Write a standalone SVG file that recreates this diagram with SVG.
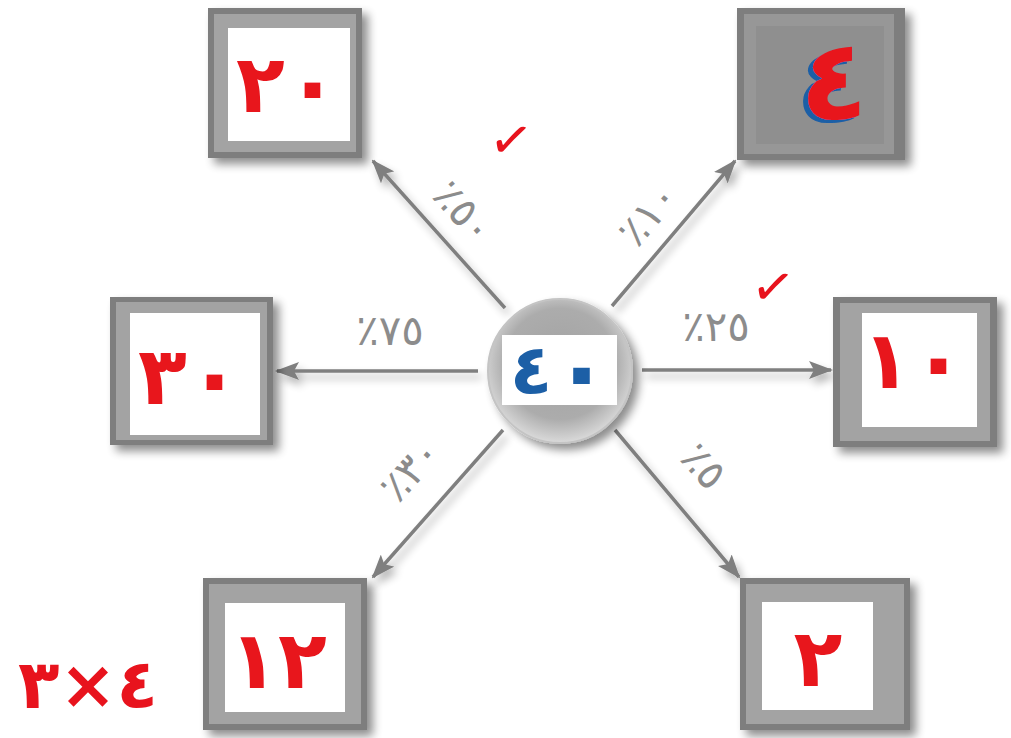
<svg xmlns="http://www.w3.org/2000/svg" width="1011" height="738" viewBox="0 0 1011 738">
<style>
.frame{fill:#7e7e7e}
.bevel{fill:#a3a3a3}
.inner{fill:#ffffff}
.conn{stroke:#7f7f7f;stroke-width:3.5;fill:none;marker-end:url(#ah)}
.pct{font-family:"DejaVu Sans",sans-serif;font-size:42px;letter-spacing:7px;fill:#8c8c8c;direction:ltr;unicode-bidi:bidi-override;text-anchor:middle;dominant-baseline:central}
.num{font-family:"DejaVu Sans",sans-serif;font-size:80px;font-weight:bold;fill:#e8131d;direction:ltr;unicode-bidi:bidi-override;text-anchor:middle;dominant-baseline:central}
.zero{font-size:90px}
.chk{font-family:"DejaVu Sans",sans-serif;font-size:52px;font-weight:bold;fill:#e8131d;text-anchor:middle;dominant-baseline:central}
</style>
<defs>
<filter id="sh" x="-20%" y="-20%" width="150%" height="150%">
<feGaussianBlur in="SourceAlpha" stdDeviation="5"/>
<feOffset dx="6" dy="6" result="b"/>
<feComponentTransfer><feFuncA type="linear" slope="0.45"/></feComponentTransfer>
<feMerge><feMergeNode/><feMergeNode in="SourceGraphic"/></feMerge>
</filter>
<filter id="lsh" x="-20%" y="-20%" width="140%" height="140%">
<feGaussianBlur in="SourceAlpha" stdDeviation="4"/>
<feOffset dx="4" dy="6"/>
<feComponentTransfer><feFuncA type="linear" slope="0.3"/></feComponentTransfer>
<feMerge><feMergeNode/><feMergeNode in="SourceGraphic"/></feMerge>
</filter>
<filter id="blue" x="-30%" y="-30%" width="160%" height="160%">
<feFlood flood-color="#1b5ea6"/>
<feComposite in2="SourceAlpha" operator="in"/>
<feOffset dx="-5" dy="3"/>
<feMerge><feMergeNode/><feMergeNode in="SourceGraphic"/></feMerge>
</filter>
<radialGradient id="cg" cx="50%" cy="45%" r="55%">
<stop offset="0" stop-color="#a2a2a2"/>
<stop offset="0.7" stop-color="#acacac"/>
<stop offset="1" stop-color="#dadada"/>
</radialGradient>
<marker id="ah" viewBox="0 0 24 18" refX="22" refY="9" markerWidth="24" markerHeight="18" markerUnits="userSpaceOnUse" orient="auto">
<path d="M0,0 L24,9 L0,18 L5,9 Z" fill="#7f7f7f"/>
</marker>
</defs>

<g id="connectors" filter="url(#lsh)">
<path class="conn" d="M478,371 L277,371"/>
<path class="conn" d="M642,370 L831,370"/>
<path class="conn" d="M505,308 L373,161"/>
<path class="conn" d="M612,306 L735,161"/>
<path class="conn" d="M503,430 L373,577"/>
<path class="conn" d="M615,430 L739,577"/>
</g>

<g id="labels">
<text class="pct" x="390" y="330">٪٧٥</text>
<text class="pct" x="716" y="326">٪٢٥</text>
<text class="pct" transform="translate(464,212) rotate(48)">٪٥٠</text>
<text class="pct" transform="translate(648,214) rotate(-50)">٪١٠</text>
<text class="pct" transform="translate(410,470) rotate(-48)">٪٣٠</text>
<text class="pct" transform="translate(704,466) rotate(48)">٪٥</text>
<text class="chk" transform="translate(511,140) rotate(8)">✓</text>
<text class="chk" transform="translate(773,287) rotate(8)">✓</text>
</g>

<g id="center" filter="url(#sh)">
<circle cx="560" cy="371" r="72" fill="url(#cg)" stroke="#c4c4c4" stroke-width="2"/>
<rect x="502" y="335" width="115" height="70" fill="#ffffff"/>
<text x="560" y="370" font-family="DejaVu Sans,sans-serif" font-size="70" font-weight="bold" fill="#1b5ea6" text-anchor="middle" dominant-baseline="central" letter-spacing="-4" style="direction:ltr;unicode-bidi:bidi-override">٤<tspan font-size="95">٠</tspan></text>
</g>

<g id="node-top-left" filter="url(#sh)">
<rect class="frame" x="208" y="8" width="154" height="150"/>
<rect class="bevel" x="214" y="14" width="142" height="138"/>
<rect class="inner" x="228" y="28" width="122" height="113"/>
<text class="num" x="288" y="84" letter-spacing="-8">٢<tspan class="zero">٠</tspan></text>
</g>

<g id="node-top-right" filter="url(#sh)">
<rect class="frame" x="737" y="8" width="168" height="152"/>
<rect x="744" y="14" width="150" height="140" fill="#979797"/>
<rect x="756" y="26" width="128" height="118" fill="#8f8f8f"/>
<text class="num" x="834" y="80" filter="url(#blue)" style="font-size:112px">٤</text>
</g>

<g id="node-left" filter="url(#sh)">
<rect class="frame" x="110" y="297" width="163" height="148"/>
<rect class="bevel" x="116" y="302" width="151" height="138"/>
<rect class="inner" x="130" y="313" width="130" height="122"/>
<text class="num" x="190" y="376" letter-spacing="-6">٣<tspan class="zero">٠</tspan></text>
</g>

<g id="node-right" filter="url(#sh)">
<rect class="frame" x="833" y="297" width="164" height="150"/>
<rect class="bevel" x="840" y="303" width="150" height="138"/>
<rect class="inner" x="862" y="313" width="115" height="114"/>
<text class="num" x="914" y="360" letter-spacing="-4">١<tspan class="zero">٠</tspan></text>
</g>

<g id="node-bottom-left" filter="url(#sh)">
<rect class="frame" x="203" y="578" width="164" height="152"/>
<rect class="bevel" x="209" y="584" width="152" height="140"/>
<rect class="inner" x="225" y="603" width="120" height="109"/>
<text class="num" x="278" y="660" letter-spacing="-6">١٢</text>
</g>

<g id="node-bottom-right" filter="url(#sh)">
<rect class="frame" x="740" y="578" width="170" height="152"/>
<rect class="bevel" x="746" y="584" width="158" height="140"/>
<rect class="inner" x="762" y="602" width="111" height="108"/>
<text class="num" x="818" y="658">٢</text>
</g>

<g id="note">
<text class="num" x="88" y="684" style="font-size:68px">٣×٤</text>
</g>
</svg>
